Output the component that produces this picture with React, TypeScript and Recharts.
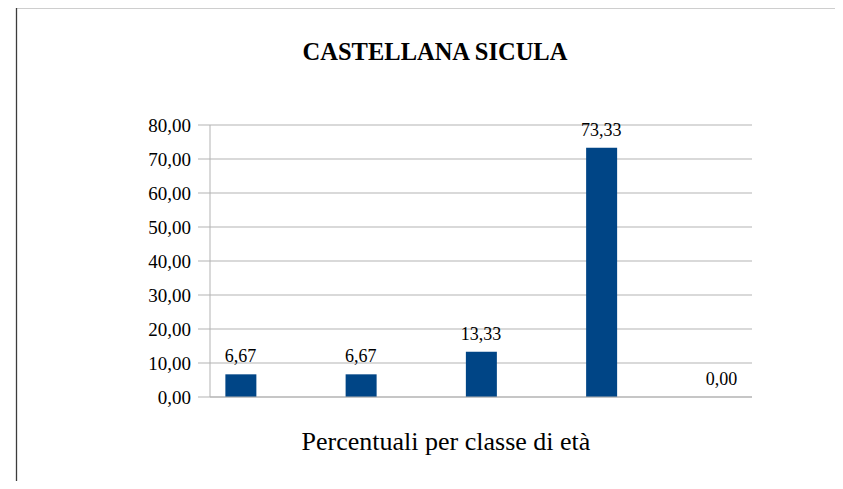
import React from "react";
import { ComposedChart, Bar, Line, XAxis, YAxis, CartesianGrid, LabelList } from "recharts";

const categories = ["Classe 1", "Classe 2", "Classe 3", "Classe 4", "Classe 5"];
const percentuali = [6.67, 6.67, 13.33, 73.33, 0.0];
const yTicks = [0, 10, 20, 30, 40, 50, 60, 70, 80];
const chartTitle = "CASTELLANA SICULA";
const xTitle = "Percentuali per classe di età";

const data = categories.map((c, i) => ({ classe: c, idx: i, value: percentuali[i] }));

const FONT = '"Liberation Serif", "Times New Roman", serif';
const GRID = "#b3b3b3";
const fmt = (v: number) => Number(v).toFixed(2).replace(".", ",");

export default function App() {
  return (
    <div style={{ position: "relative", width: 843, height: 489, margin: -8, overflow: "hidden", background: "#fff" }}>
      <ComposedChart
        width={843}
        height={489}
        data={data}
        margin={{ top: 125, right: 91, bottom: 0, left: 0 }}
        style={{ fontFamily: FONT }}
      >
        <CartesianGrid yAxisId="left" vertical={false} stroke={GRID} />
        <XAxis
          type="number"
          dataKey="idx"
          domain={[-0.2536, 4.2536]}
          allowDataOverflow
          height={92}
          tick={false}
          tickLine={false}
          axisLine={{ stroke: GRID }}
          label={{
            value: xTitle,
            position: "insideBottom",
            offset: 39,
            dx: -35,
            style: { fontSize: 26, fill: "#000", fontFamily: FONT },
          }}
        />
        <YAxis
          yAxisId="left"
          width={210}
          domain={[0, 80]}
          ticks={yTicks}
          tickFormatter={fmt}
          tickSize={12}
          tickMargin={7}
          axisLine={{ stroke: GRID }}
          tickLine={{ stroke: GRID }}
          tick={{ fontSize: 19, fill: "#000", fontFamily: FONT }}
        />
        <YAxis
          yAxisId="right"
          orientation="right"
          width={0}
          tick={false}
          tickLine={false}
          axisLine={{ stroke: GRID }}
        />
        <Bar yAxisId="left" dataKey="value" fill="#004586" barSize={31} isAnimationActive={false} />
        <Line
          yAxisId="left"
          dataKey="value"
          stroke="none"
          dot={false}
          activeDot={false}
          legendType="none"
          isAnimationActive={false}
        >
          <LabelList
            dataKey="value"
            position="top"
            offset={12}
            formatter={(v: any) => fmt(v)}
            style={{ fontSize: 18, fill: "#000", fontFamily: FONT }}
          />
        </Line>
      </ComposedChart>
      <svg
        width={843}
        height={489}
        style={{ position: "absolute", left: 0, top: 0, pointerEvents: "none" }}
      >
        <line x1={16} y1={7.5} x2={843} y2={7.5} stroke="#3c3c3c" strokeWidth={1.3} />
        <line x1={16.5} y1={7} x2={16.5} y2={489} stroke="#3c3c3c" strokeWidth={1.3} />
        <text x={435} y={60} textAnchor="middle" fontFamily={FONT} fontWeight="bold" fontSize={24.5} fill="#000">
          {chartTitle}
        </text>
      </svg>
    </div>
  );
}
